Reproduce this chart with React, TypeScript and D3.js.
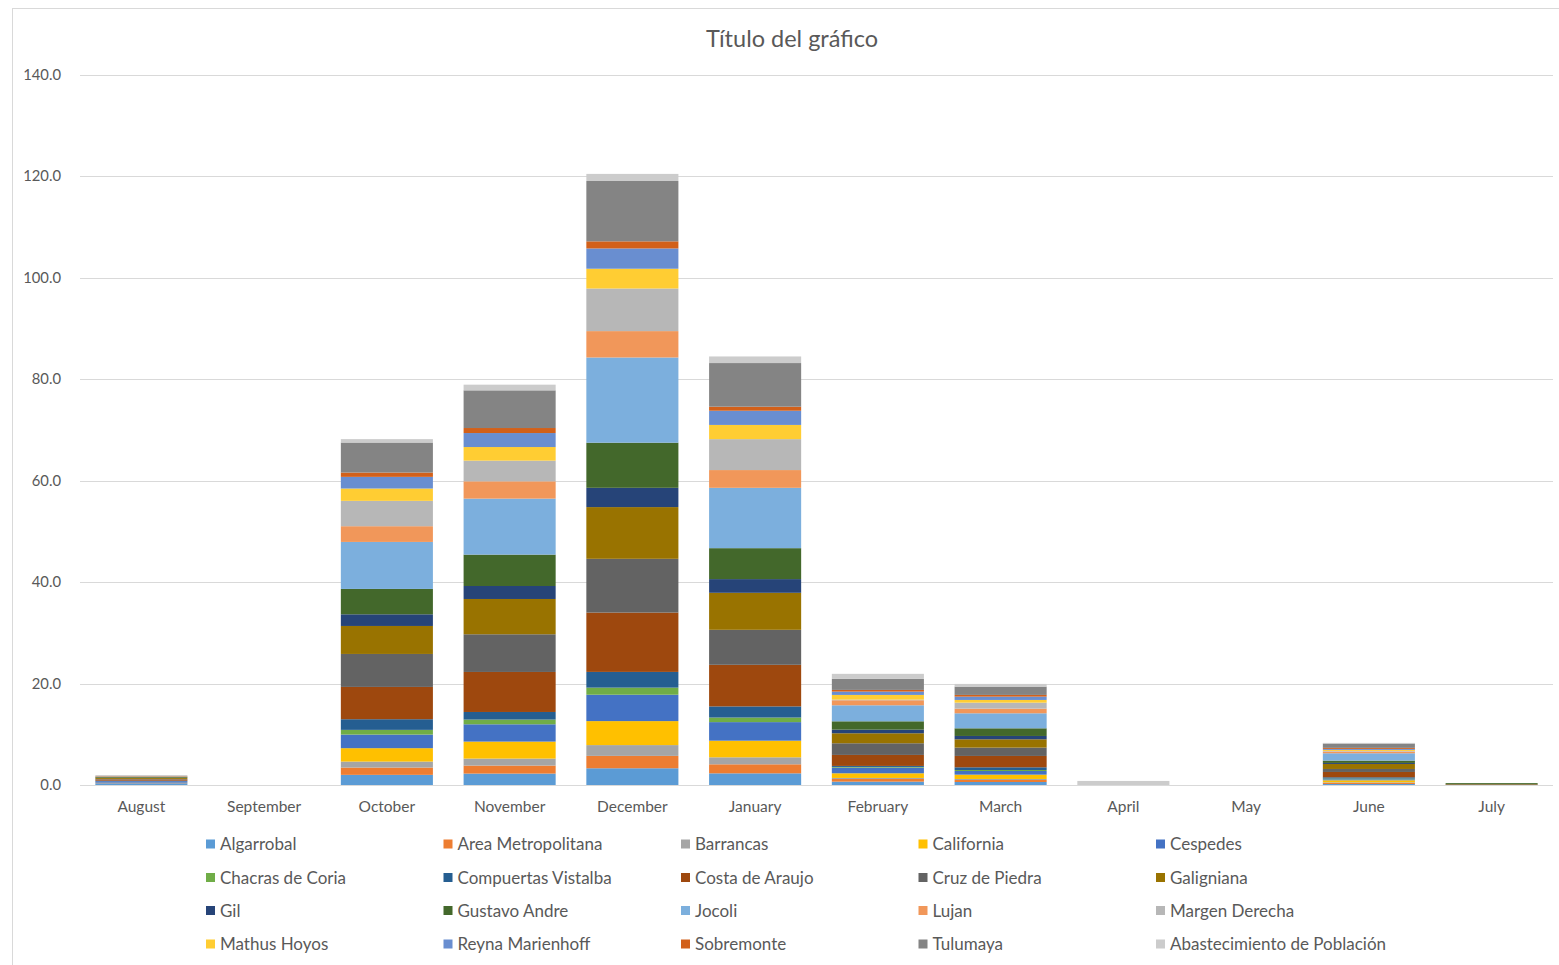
import React from "react";
import * as d3 from "d3";

const months = ["August", "September", "October", "November", "December", "January", "February", "March", "April", "May", "June", "July"];

const algarrobal = [0.35, 0, 2.0, 2.25, 3.3, 2.3, 0.66, 0.59, 0, 0, 0.2, 0];
const areaMetropolitana = [0.05, 0, 1.44, 1.58, 2.44, 1.78, 0.53, 0.4, 0, 0, 0.2, 0];
const barrancas = [0, 0, 1.18, 1.38, 2.13, 1.38, 0.2, 0.2, 0, 0, 0.13, 0];
const california = [0.05, 0, 2.64, 3.35, 4.73, 3.28, 0.92, 0.85, 0, 0, 0.4, 0];
const cespedes = [0.3, 0, 2.68, 3.41, 5.2, 3.66, 1.12, 0.72, 0, 0, 0.2, 0];
const chacrasDeCoria = [0, 0, 0.93, 0.93, 1.4, 0.9, 0.13, 0.2, 0, 0, 0.13, 0];
const compuertasVistalba = [0.1, 0, 2.1, 1.5, 3.1, 2.2, 0.2, 0.53, 0, 0, 0.26, 0];
const costaDeAraujo = [0.25, 0, 6.37, 7.89, 11.7, 8.2, 2.17, 2.24, 0, 0, 1.05, 0.12];
const cruzDePiedra = [0.1, 0, 6.5, 7.43, 10.6, 6.9, 2.3, 1.64, 0, 0, 0.59, 0];
const galigniana = [0.2, 0, 5.52, 6.96, 10.2, 7.3, 1.97, 1.64, 0, 0, 0.99, 0];
const gil = [0.05, 0, 2.3, 2.56, 3.8, 2.7, 0.72, 0.66, 0, 0, 0.2, 0];
const gustavoAndre = [0.15, 0, 5.0, 6.19, 8.9, 6.1, 1.64, 1.51, 0, 0, 0.46, 0.25];
const jocoli = [0.05, 0, 9.27, 11.04, 16.8, 11.9, 3.16, 2.96, 0, 0, 1.45, 0];
const lujan = [0.05, 0, 3.1, 3.41, 5.2, 3.5, 0.99, 0.92, 0, 0, 0.33, 0];
const margenDerecha = [0, 0, 5.0, 4.08, 8.4, 6.1, 0.13, 1.18, 0, 0, 0.13, 0];
const mathusHoyos = [0, 0, 2.43, 2.68, 3.9, 2.8, 0.92, 0.53, 0, 0, 0.2, 0];
const reynaMarienhoff = [0, 0, 2.3, 2.76, 4.0, 2.8, 0.66, 0.66, 0, 0, 0.2, 0];
const sobremonte = [0.05, 0, 0.85, 0.99, 1.4, 0.8, 0.33, 0.33, 0, 0, 0.2, 0];
const tulumaya = [0.1, 0, 5.92, 7.43, 11.9, 8.6, 2.17, 1.64, 0, 0, 0.85, 0];
const abastecimiento = [0, 0, 0.67, 1.12, 1.4, 1.3, 1.0, 0.53, 0.8, 0, 0.13, 0];

const seriesNames = [
  "Algarrobal", "Area Metropolitana", "Barrancas", "California", "Cespedes",
  "Chacras de Coria", "Compuertas Vistalba", "Costa de Araujo", "Cruz de Piedra", "Galigniana",
  "Gil", "Gustavo Andre", "Jocoli", "Lujan", "Margen Derecha",
  "Mathus Hoyos", "Reyna Marienhoff", "Sobremonte", "Tulumaya", "Abastecimiento de Población",
];
const seriesValues = [
  algarrobal, areaMetropolitana, barrancas, california, cespedes,
  chacrasDeCoria, compuertasVistalba, costaDeAraujo, cruzDePiedra, galigniana,
  gil, gustavoAndre, jocoli, lujan, margenDerecha,
  mathusHoyos, reynaMarienhoff, sobremonte, tulumaya, abastecimiento,
];
const seriesColors = [
  "#5B9BD5", "#ED7D31", "#A5A5A5", "#FFC000", "#4472C4",
  "#70AD47", "#255E91", "#9E480E", "#636363", "#997300",
  "#264478", "#43682B", "#7CAFDD", "#F1975A", "#B7B7B7",
  "#FFCD33", "#698ED0", "#D2601A", "#848484", "#CCCCCC",
];
const yTicks = [0, 20, 40, 60, 80, 100, 120, 140];

const W = 1559;
const H = 965;
const FONT = "Lato, 'Open Sans', sans-serif";
const TXT = "#595959";

export default function App() {
  const left = 80, right = 1553, top = 75, bottom = 785;
  const x = d3.scaleBand<string>().domain(months).range([left, right]).paddingInner(0.25).paddingOuter(0.125);
  const y = d3.scaleLinear().domain([0, 140]).range([bottom, top]);

  const table = months.map((m, i) => {
    const row: any = { month: m };
    seriesNames.forEach((s, k) => (row[s] = seriesValues[k][i]));
    return row;
  });
  const stacked = d3.stack<any>().keys(seriesNames)(table);

  const legendCols = [206, 443.5, 681, 918.5, 1156];
  const legendRows = [844, 877.5, 910.5, 944];

  return (
    <div style={{ position: "absolute", left: 0, top: 0 }}>
      <svg width={W} height={H} style={{ display: "block", fontFamily: FONT }}>
        <rect x={0} y={0} width={W} height={H} fill="#ffffff" />
        <rect x={12.5} y={8.5} width={W + 10} height={H + 10} fill="none" stroke="#D9D9D9" strokeWidth={1} />
        <text x={792} y={47} textAnchor="middle" fontSize={23.5} fill={TXT}>Título del gráfico</text>
        {yTicks.map((t) => (
          <g key={t}>
            <line x1={left} x2={right} y1={Math.round(y(t)) + 0.5} y2={Math.round(y(t)) + 0.5} stroke="#D9D9D9" strokeWidth={1} />
            <text x={61} y={y(t) + 5} textAnchor="end" fontSize={14.8} fill={TXT}>{t.toFixed(1)}</text>
          </g>
        ))}
        {stacked.map((layer, k) => (
          <g key={layer.key} fill={seriesColors[k]}>
            {layer.map((d, i) => {
              const h = y(d[0]) - y(d[1]);
              if (h <= 0) return null;
              return <rect key={i} x={x(months[i])} y={y(d[1])} width={x.bandwidth()} height={h} />;
            })}
          </g>
        ))}
        <line x1={left} x2={right} y1={bottom + 0.5} y2={bottom + 0.5} stroke="#D9D9D9" strokeWidth={1} />
        {months.map((m) => (
          <text key={m} x={(x(m) as number) + x.bandwidth() / 2} y={812} textAnchor="middle" fontSize={15.5} fill={TXT}>{m}</text>
        ))}
        {seriesNames.map((s, k) => {
          const cx = legendCols[k % 5];
          const cy = legendRows[Math.floor(k / 5)];
          return (
            <g key={s}>
              <rect x={cx} y={cy - 4.5} width={9} height={9} fill={seriesColors[k]} />
              <text x={cx + 14} y={cy + 6} fontSize={17} fill={TXT}>{s}</text>
            </g>
          );
        })}
      </svg>
    </div>
  );
}
